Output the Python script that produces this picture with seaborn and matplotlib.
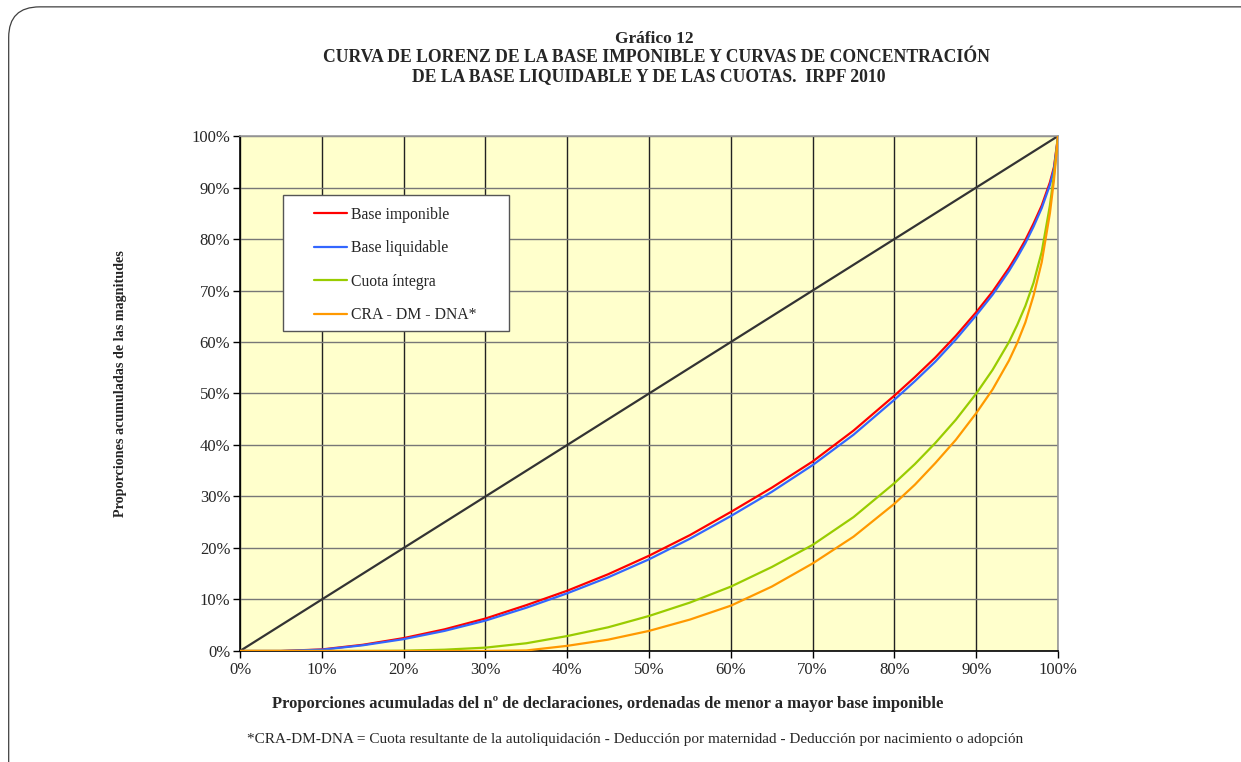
import seaborn as sns
import pandas as pd
import matplotlib.pyplot as plt
from matplotlib.patches import FancyBboxPatch, Rectangle
from matplotlib.ticker import PercentFormatter

# Data (percent of declarations vs cumulative share)
declaraciones = [0, 5, 10, 15, 20, 25, 30, 35, 40, 45, 50, 55, 60, 65, 70, 75,
                 80, 82.5, 85, 87.5, 90, 92, 94, 95, 96, 97, 98, 99, 99.5, 100]
base_imponible = [0, 0, 0.3, 1.2, 2.5, 4.2, 6.3, 8.9, 11.7, 14.9, 18.5, 22.5, 27.0,
                  31.7, 36.8, 42.8, 49.6, 53.2, 57.0, 61.2, 65.8, 69.8, 74.4, 77.0,
                  79.8, 83.0, 86.5, 91.0, 94.0, 100]
base_liquidable = [0, 0, 0.25, 1.1, 2.3, 3.9, 5.9, 8.4, 11.2, 14.3, 17.8, 21.8, 26.2,
                   30.9, 36.1, 42.0, 48.8, 52.4, 56.2, 60.5, 65.2, 69.2, 73.8, 76.4,
                   79.2, 82.4, 86.0, 90.5, 93.6, 100]
cuota_integra = [0, 0, 0, 0, 0.05, 0.25, 0.65, 1.5, 2.9, 4.6, 6.8, 9.4, 12.5,
                 16.3, 20.6, 26.0, 32.6, 36.3, 40.4, 44.9, 50.0, 54.6, 60.0, 63.3,
                 67.0, 71.5, 77.5, 86.5, 92.5, 100]
cra_dm_dna = [0, 0, 0, 0, 0, 0, 0, 0.1, 1.0, 2.2, 3.9, 6.1, 8.8,
              12.5, 17.0, 22.2, 28.6, 32.3, 36.5, 41.0, 46.2, 50.8, 56.4, 59.8,
              63.8, 69.0, 75.5, 85.0, 91.5, 100]
diagonal = [0, 100]

series = {
    "Base imponible": base_imponible,
    "Base liquidable": base_liquidable,
    "Cuota íntegra": cuota_integra,
    "CRA - DM - DNA*": cra_dm_dna,
}
colors = ["#FF0000", "#3366FF", "#99CC00", "#FF9900"]

df = pd.concat([pd.DataFrame({"x": declaraciones, "y": v, "serie": k})
                for k, v in series.items()], ignore_index=True)

sns.set_style("white")
plt.rcParams["font.family"] = ["Liberation Serif", "DejaVu Serif"]

fig = plt.figure(figsize=(12.41, 7.62), dpi=100)
fig.patch.set_facecolor("white")

# rounded frame around the whole chart (right and bottom sides fall outside)
fig.patches.append(FancyBboxPatch((0.007, -0.1), 1.05, 1.091, transform=fig.transFigure,
                                  boxstyle="round,pad=0,rounding_size=0.025",
                                  fc="none", ec="#404040", lw=0.9, mutation_aspect=1.6))

ax = fig.add_axes([0.1934, 0.1457, 0.6592, 0.6758])
ax.set_facecolor("#FFFFCC")

sns.lineplot(x=diagonal, y=diagonal, color="#333333", lw=1.6, ax=ax)
sns.lineplot(data=df, x="x", y="y", hue="serie", palette=colors, lw=1.6,
             estimator=None, ax=ax, zorder=3)

ax.set_xlim(0, 100)
ax.set_ylim(0, 100)
ax.set_xticks(range(0, 101, 10))
ax.set_yticks(range(0, 101, 10))
ax.xaxis.set_major_formatter(PercentFormatter(decimals=0))
ax.yaxis.set_major_formatter(PercentFormatter(decimals=0))
ax.tick_params(axis="both", labelsize=12, length=5, width=1, color="black",
               direction="out", bottom=True, left=True)
ax.tick_params(axis="x", pad=3)
ax.tick_params(axis="y", pad=2)

ax.xaxis.grid(True, color="#222222", lw=1)
ax.yaxis.grid(True, color="#777777", lw=1)
ax.set_axisbelow(True)
for s in ["left", "bottom"]:
    ax.spines[s].set_color("black")
    ax.spines[s].set_linewidth(1.2)
for s in ["top", "right"]:
    ax.spines[s].set_color("#999999")
    ax.spines[s].set_linewidth(1.2)

ax.set_xlabel("")
ax.set_ylabel("")

# legend: white box with entries
ax.add_patch(Rectangle((0.0526, 0.621), 0.276, 0.264, transform=ax.transAxes,
                       fc="white", ec="#555555", lw=1, zorder=4))
handles, labels = ax.get_legend_handles_labels()
leg = ax.legend(handles[-4:], labels[-4:], loc="upper left",
                bbox_to_anchor=(0.090, 0.863), frameon=False, fontsize=11.3,
                handlelength=2.15, handletextpad=0.2, labelspacing=1.12,
                borderaxespad=0, borderpad=0)
leg.set_zorder(5)

fig.text(0.527, 0.949, "Gráfico 12", ha="center", va="center",
         fontsize=12.5, fontweight="bold")
fig.text(0.529, 0.925, "CURVA DE LORENZ DE LA BASE IMPONIBLE Y CURVAS DE CONCENTRACIÓN",
         ha="center", va="center", fontsize=12.7, fontweight="bold")
fig.text(0.523, 0.900, "DE LA BASE LIQUIDABLE Y DE LAS CUOTAS.  IRPF 2010",
         ha="center", va="center", fontsize=12.7, fontweight="bold")

fig.text(0.490, 0.076,
         "Proporciones acumuladas del nº de declaraciones, ordenadas de menor a mayor base imponible",
         ha="center", va="center", fontsize=12, fontweight="bold")
fig.text(0.097, 0.497, "Proporciones acumuladas de las magnitudes", rotation=90,
         ha="center", va="center", fontsize=10.2, fontweight="bold")
fig.text(0.512, 0.030,
         "*CRA-DM-DNA = Cuota resultante de la autoliquidación - Deducción por maternidad - Deducción por nacimiento o adopción",
         ha="center", va="center", fontsize=11)

fig.savefig("out.png", dpi=100)
